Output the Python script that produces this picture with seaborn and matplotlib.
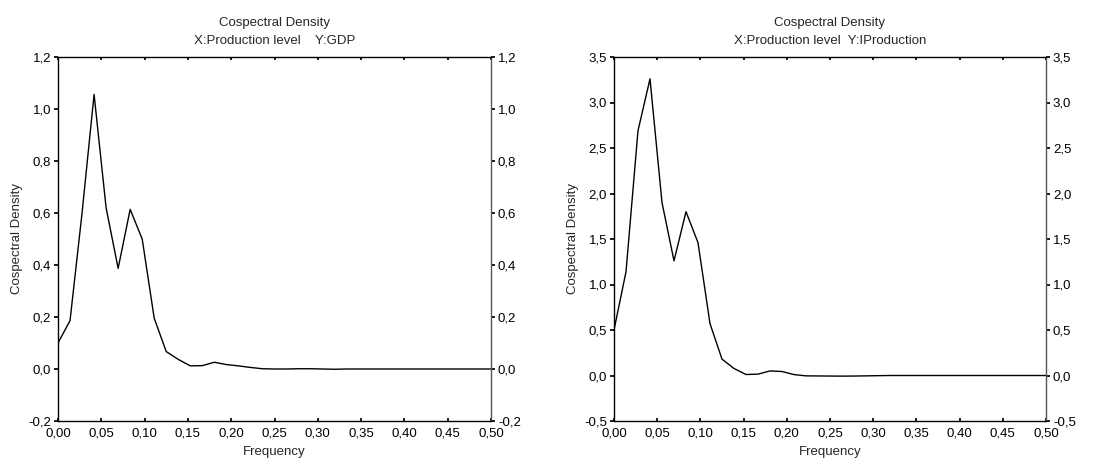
import numpy as np
import pandas as pd
import seaborn as sns
import matplotlib.pyplot as plt
from matplotlib.ticker import FuncFormatter, MultipleLocator

sns.set_theme(style="white")
plt.rcParams['font.family'] = ['Liberation Sans', 'DejaVu Sans']

# frekanslar: k/72, k = 0..36
frekans = [k / 72 for k in range(37)]

gdp = [0.10, 0.186, 0.60, 1.056, 0.62, 0.387, 0.614, 0.50, 0.195, 0.067,
       0.037, 0.012, 0.013, 0.026, 0.017, 0.012, 0.006, 0.001, 0.0, 0.0,
       0.001, 0.001, 0.0, -0.001, 0.0, 0.0, 0.0, 0.0, 0.0, 0.0,
       0.0, 0.0, 0.0, 0.0, 0.0, 0.0, 0.0]

iproduction = [0.50, 1.14, 2.69, 3.26, 1.90, 1.26, 1.80, 1.46, 0.57, 0.18,
               0.077, 0.011, 0.015, 0.05, 0.044, 0.01, -0.004, -0.005, -0.006, -0.007,
               -0.006, -0.004, -0.002, 0.0, 0.0, 0.0, 0.0, 0.0, 0.0, 0.0,
               0.0, 0.0, 0.0, 0.0, 0.0, 0.0, 0.0]

basliklar = ["Cospectral Density\nX:Production level    Y:GDP",
             "Cospectral Density\nX:Production level  Y:IProduction"]

veri1 = pd.DataFrame({"Frequency": frekans, "Density": gdp})
veri2 = pd.DataFrame({"Frequency": frekans, "Density": iproduction})

fig = plt.figure(figsize=(11.04, 4.59), dpi=100)
ax1 = fig.add_axes([58 / 1104, 1 - 421 / 459, 433 / 1104, 364 / 459])
ax2 = fig.add_axes([614 / 1104, 1 - 421 / 459, 432 / 1104, 364 / 459])

virgul_x = FuncFormatter(lambda v, p: f"{v:.2f}".replace(".", ","))
virgul_y = FuncFormatter(lambda v, p: f"{v:.1f}".replace(".", ",").replace("-0,0", "0,0"))

ayarlar = [(ax1, veri1, (-0.2, 1.2), 0.2, basliklar[0]),
           (ax2, veri2, (-0.5, 3.5), 0.5, basliklar[1])]

fs = 9.5
for ax, veri, ylim, adim, baslik in ayarlar:
    sns.lineplot(data=veri, x="Frequency", y="Density", color="black",
                 linewidth=1.0, ax=ax)
    ax.set_xlim(0, 0.5)
    ax.set_ylim(*ylim)
    ax.xaxis.set_major_locator(MultipleLocator(0.05))
    ax.yaxis.set_major_locator(MultipleLocator(adim))
    ax.xaxis.set_major_formatter(virgul_x)
    ax.yaxis.set_major_formatter(virgul_y)
    ax.tick_params(axis="x", direction="in", length=2, top=True, bottom=True,
                   labelsize=fs, pad=5, colors="black")
    ax.tick_params(axis="y", direction="out", length=3, left=True, right=True,
                   labelleft=True, labelright=True, labelsize=fs, pad=2,
                   colors="black")
    for s in ax.spines.values():
        s.set_color("black")
        s.set_linewidth(1.0)
    ax.spines["right"].set_color("#555555")
    ax.set_xlabel("Frequency", fontsize=fs, labelpad=4)
    ax.set_ylabel("Cospectral Density", fontsize=fs, labelpad=4)
    ax.set_title(baslik, fontsize=fs, pad=9, linespacing=1.75)

fig.savefig("out.png", dpi=100)
